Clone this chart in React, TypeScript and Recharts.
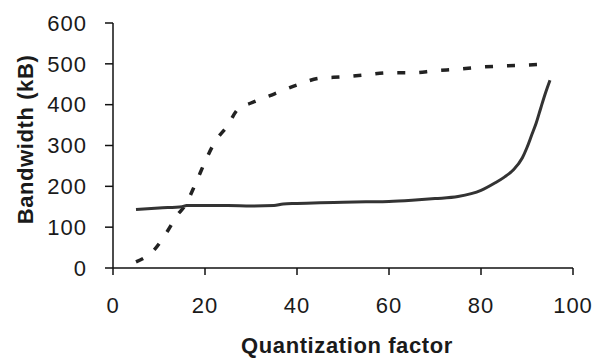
import React from 'react';
import { LineChart, Line, XAxis, YAxis } from 'recharts';

// dashed curve (rises fast, saturates near 500)
const dashedX = [5, 9, 12, 14, 15.5, 18, 20, 22, 25, 27, 30, 35, 40, 45, 50, 55, 60, 65, 70, 75, 80, 85, 90, 95];
const dashedY = [15, 45, 93, 130, 150, 208, 260, 306, 350, 387, 404, 426, 448, 465, 468, 473, 478, 478, 483, 487, 492, 495, 497, 500];

// solid curve (flat, then climbs after 80)
const solidX = [5, 10, 15, 16, 20, 25, 30, 35, 37, 40, 45, 50, 55, 60, 65, 70, 75, 80, 83, 85, 87, 89, 90, 91, 92, 93, 94, 95];
const solidY = [143, 147, 150, 153, 153, 153, 152, 153, 157, 158, 160, 161, 162, 163, 166, 170, 175, 190, 208, 222, 240, 270, 295, 325, 355, 392, 428, 460];

const xTicks = [0, 20, 40, 60, 80, 100];
const yTicks = [0, 100, 200, 300, 400, 500, 600];

const dashedData = dashedX.map((x, i) => ({ x, y: dashedY[i] }));
const solidData = solidX.map((x, i) => ({ x, y: solidY[i] }));

const FONT = '"Liberation Sans", Arial, sans-serif';
const tickStyle = { fill: '#1a1a1a', fontSize: 22, fontFamily: FONT, letterSpacing: 1 };

const YTitle = (props: any) => {
  const { viewBox } = props;
  const cx = viewBox.x - 28;
  const cy = viewBox.y + viewBox.height / 2 - 6;
  return (
    <text
      x={cx}
      y={cy}
      transform={`rotate(-90, ${cx}, ${cy})`}
      textAnchor="middle"
      dominantBaseline="central"
      fontFamily={FONT}
      fontSize={22}
      fontWeight="bold"
      letterSpacing={0.6}
      fill="#1a1a1a"
    >
      Bandwidth (kB)
    </text>
  );
};

const XTitle = (props: any) => {
  const { viewBox } = props;
  return (
    <text
      x={viewBox.x + viewBox.width / 2 + 4}
      y={viewBox.y + viewBox.height + 5}
      textAnchor="middle"
      fontFamily={FONT}
      fontSize={22}
      fontWeight="bold"
      letterSpacing={0.6}
      fill="#1a1a1a"
    >
      Quantization factor
    </text>
  );
};

export default function App() {
  return (
    <div style={{ position: 'absolute', left: 0, top: 0, width: 600, height: 359, background: '#fff' }}>
      <LineChart width={600} height={359} margin={{ top: 23, right: 27, left: 53, bottom: 11 }}>
        <XAxis
          type="number"
          dataKey="x"
          domain={[0, 100]}
          ticks={xTicks}
          allowDuplicatedCategory={false}
          height={80}
          tick={tickStyle}
          tickSize={7}
          tickMargin={22}
          stroke="#111"
          strokeWidth={1.5}
          label={<XTitle />}
        />
        <YAxis
          type="number"
          dataKey="y"
          domain={[0, 600]}
          ticks={yTicks}
          width={60}
          tick={tickStyle}
          tickSize={8}
          tickMargin={18}
          stroke="#111"
          strokeWidth={1.5}
          label={<YTitle />}
        />
        <Line
          data={dashedData}
          dataKey="y"
          type="monotone"
          stroke="#222"
          strokeWidth={3.5}
          strokeDasharray="8 14"
          dot={false}
          isAnimationActive={false}
        />
        <Line
          data={solidData}
          dataKey="y"
          type="monotone"
          stroke="#333"
          strokeWidth={3}
          dot={false}
          isAnimationActive={false}
        />
      </LineChart>
    </div>
  );
}
